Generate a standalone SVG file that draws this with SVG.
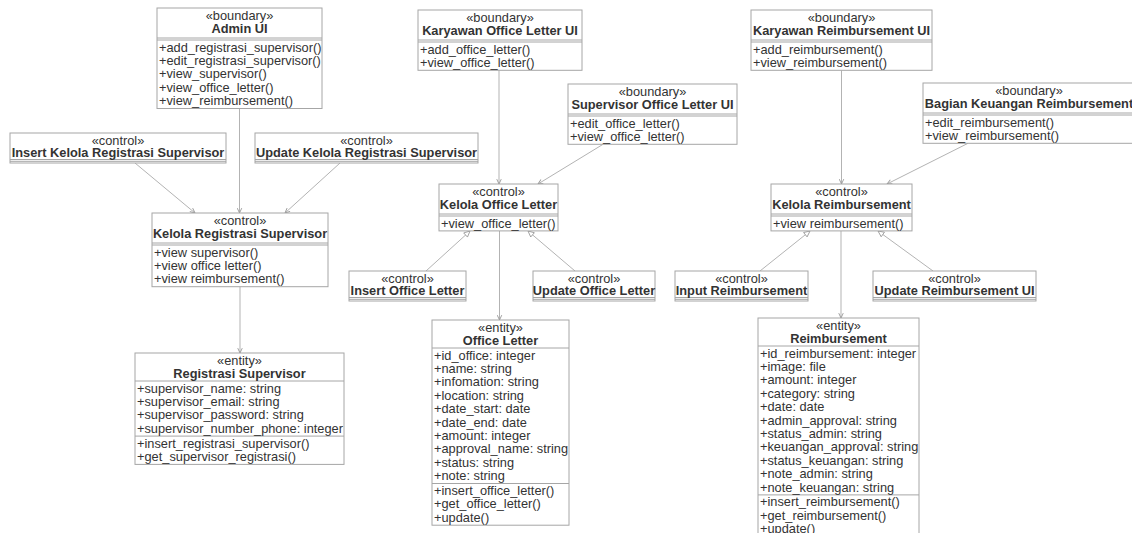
<svg xmlns="http://www.w3.org/2000/svg" width="1132" height="533" viewBox="0 0 1132 533">
<style>
.box{fill:#fff;stroke:#a6a6a6;stroke-width:1}
.dv{stroke:#a6a6a6;stroke-width:1}
text{font-family:'Liberation Sans',Arial,sans-serif;font-size:12.8px;fill:#333}
.c{text-anchor:middle}
.b{font-weight:bold;text-anchor:middle}
.ln{stroke:#b3b3b3;stroke-width:1;fill:none}
.a{marker-end:url(#arr)}
.t{marker-end:url(#tri)}
</style>
<defs>
<marker id="arr" viewBox="0 0 8 8" refX="7.5" refY="4" markerWidth="6" markerHeight="6" orient="auto" markerUnits="userSpaceOnUse"><path d="M1,1 L7.5,4 L1,7" fill="none" stroke="#999" stroke-width="1.2"/></marker>
<marker id="tri" viewBox="0 0 10 10" refX="9.5" refY="5" markerWidth="7" markerHeight="7" orient="auto" markerUnits="userSpaceOnUse"><path d="M1,1 L9.5,5 L1,9 z" fill="#fff" stroke="#999" stroke-width="1.2"/></marker>
</defs>

<g id="connectors">
<line class="ln a" x1="239.5" y1="108.5" x2="239.5" y2="213"/>
<line class="ln a" x1="135" y1="163" x2="195" y2="213"/>
<line class="ln a" x1="340" y1="163" x2="285" y2="213"/>
<line class="ln a" x1="240" y1="287" x2="240" y2="353"/>
<line class="ln a" x1="499" y1="70.3" x2="499" y2="184"/>
<line class="ln a" x1="603" y1="144.3" x2="538" y2="184"/>
<line class="ln t" x1="426" y1="271" x2="470" y2="231"/>
<line class="ln t" x1="575" y1="271" x2="528" y2="231"/>
<line class="ln a" x1="499.5" y1="231" x2="499.5" y2="320"/>
<line class="ln a" x1="841.5" y1="70.3" x2="841.5" y2="184"/>
<line class="ln a" x1="968" y1="143.3" x2="887" y2="184"/>
<line class="ln t" x1="760" y1="271" x2="810" y2="231"/>
<line class="ln t" x1="933" y1="271" x2="878" y2="231"/>
<line class="ln a" x1="841" y1="231" x2="841" y2="318"/>
</g>

<g id="admin-ui">
<rect class="box" x="157" y="8" width="165" height="100.5"/>
<line class="dv" x1="157" y1="38" x2="322" y2="38"/><line class="dv" x1="157" y1="40" x2="322" y2="40"/>
<text class="c" x="239.5" y="20">«boundary»</text>
<text class="b" x="239.5" y="33">Admin UI</text>
<text x="159" y="51.5">+add_registrasi_supervisor()</text>
<text x="159" y="64.9">+edit_registrasi_supervisor()</text>
<text x="159" y="78.3">+view_supervisor()</text>
<text x="159" y="91.7">+view_office_letter()</text>
<text x="159" y="105.1">+view_reimbursement()</text>
</g>

<g id="insert-kelola-registrasi-supervisor">
<rect class="box" x="10" y="133" width="216" height="30"/>
<line class="dv" x1="10" y1="159.5" x2="226" y2="159.5"/><line class="dv" x1="10" y1="161.3" x2="226" y2="161.3"/>
<text class="c" x="118" y="144.5">«control»</text>
<text class="b" x="118" y="157.3">Insert Kelola Registrasi Supervisor</text>
</g>

<g id="update-kelola-registrasi-supervisor">
<rect class="box" x="255" y="133" width="223" height="30"/>
<line class="dv" x1="255" y1="159.5" x2="478" y2="159.5"/><line class="dv" x1="255" y1="161.3" x2="478" y2="161.3"/>
<text class="c" x="366.5" y="144.5">«control»</text>
<text class="b" x="366.5" y="157.3">Update Kelola Registrasi Supervisor</text>
</g>

<g id="kelola-registrasi-supervisor">
<rect class="box" x="152" y="213" width="176" height="73.7"/>
<line class="dv" x1="152" y1="243" x2="328" y2="243"/><line class="dv" x1="152" y1="245" x2="328" y2="245"/>
<text class="c" x="240" y="225">«control»</text>
<text class="b" x="240" y="238">Kelola Registrasi Supervisor</text>
<text x="154" y="256.5">+view supervisor()</text>
<text x="154" y="269.9">+view office letter()</text>
<text x="154" y="283.3">+view reimbursement()</text>
</g>

<g id="registrasi-supervisor">
<rect class="box" x="135" y="353" width="209" height="111.4"/>
<line class="dv" x1="135" y1="381" x2="344" y2="381"/>
<line class="dv" x1="135" y1="436.1" x2="344" y2="436.1"/>
<text class="c" x="239.5" y="364.5">«entity»</text>
<text class="b" x="239.5" y="377.5">Registrasi Supervisor</text>
<text x="137" y="392.5">+supervisor_name: string</text>
<text x="137" y="405.9">+supervisor_email: string</text>
<text x="137" y="419.3">+supervisor_password: string</text>
<text x="137" y="432.7">+supervisor_number_phone: integer</text>
<text x="137" y="447.6">+insert_registrasi_supervisor()</text>
<text x="137" y="461">+get_supervisor_registrasi()</text>
</g>

<g id="karyawan-office-letter-ui">
<rect class="box" x="418" y="10" width="164" height="60.3"/>
<line class="dv" x1="418" y1="40" x2="582" y2="40"/><line class="dv" x1="418" y1="42" x2="582" y2="42"/>
<text class="c" x="500" y="22">«boundary»</text>
<text class="b" x="500" y="35">Karyawan Office Letter UI</text>
<text x="420" y="53.5">+add_office_letter()</text>
<text x="420" y="66.9">+view_office_letter()</text>
</g>

<g id="supervisor-office-letter-ui">
<rect class="box" x="568" y="84" width="169" height="60.3"/>
<line class="dv" x1="568" y1="114" x2="737" y2="114"/><line class="dv" x1="568" y1="116" x2="737" y2="116"/>
<text class="c" x="652.5" y="96">«boundary»</text>
<text class="b" x="652.5" y="109">Supervisor Office Letter UI</text>
<text x="570" y="127.5">+edit_office_letter()</text>
<text x="570" y="140.9">+view_office_letter()</text>
</g>

<g id="kelola-office-letter">
<rect class="box" x="439" y="184" width="119" height="46.9"/>
<line class="dv" x1="439" y1="214" x2="558" y2="214"/><line class="dv" x1="439" y1="216" x2="558" y2="216"/>
<text class="c" x="498.5" y="196">«control»</text>
<text class="b" x="498.5" y="209">Kelola Office Letter</text>
<text x="441" y="227.5">+view_office_letter()</text>
</g>

<g id="insert-office-letter">
<rect class="box" x="349" y="271" width="117" height="30"/>
<line class="dv" x1="349" y1="297.5" x2="466" y2="297.5"/><line class="dv" x1="349" y1="299.3" x2="466" y2="299.3"/>
<text class="c" x="407.5" y="282.5">«control»</text>
<text class="b" x="407.5" y="295.3">Insert Office Letter</text>
</g>

<g id="update-office-letter">
<rect class="box" x="533" y="271" width="122" height="30"/>
<line class="dv" x1="533" y1="297.5" x2="655" y2="297.5"/><line class="dv" x1="533" y1="299.3" x2="655" y2="299.3"/>
<text class="c" x="594" y="282.5">«control»</text>
<text class="b" x="594" y="295.3">Update Office Letter</text>
</g>

<g id="office-letter">
<rect class="box" x="432" y="320" width="137" height="205.2"/>
<line class="dv" x1="432" y1="348" x2="569" y2="348"/>
<line class="dv" x1="432" y1="483.5" x2="569" y2="483.5"/>
<text class="c" x="500.5" y="331.5">«entity»</text>
<text class="b" x="500.5" y="344.5">Office Letter</text>
<text x="434" y="359.5">+id_office: integer</text>
<text x="434" y="372.9">+name: string</text>
<text x="434" y="386.3">+infomation: string</text>
<text x="434" y="399.7">+location: string</text>
<text x="434" y="413.1">+date_start: date</text>
<text x="434" y="426.5">+date_end: date</text>
<text x="434" y="439.9">+amount: integer</text>
<text x="434" y="453.3">+approval_name: string</text>
<text x="434" y="466.7">+status: string</text>
<text x="434" y="480.1">+note: string</text>
<text x="434" y="495">+insert_office_letter()</text>
<text x="434" y="508.4">+get_office_letter()</text>
<text x="434" y="521.8">+update()</text>
</g>

<g id="karyawan-reimbursement-ui">
<rect class="box" x="751" y="10" width="181" height="60.3"/>
<line class="dv" x1="751" y1="40" x2="932" y2="40"/><line class="dv" x1="751" y1="42" x2="932" y2="42"/>
<text class="c" x="841.5" y="22">«boundary»</text>
<text class="b" x="841.5" y="35">Karyawan Reimbursement UI</text>
<text x="753" y="53.5">+add_reimbursement()</text>
<text x="753" y="66.9">+view_reimbursement()</text>
</g>

<g id="bagian-keuangan-reimbursement">
<rect class="box" x="923" y="83" width="212" height="60.3"/>
<line class="dv" x1="923" y1="113" x2="1135" y2="113"/><line class="dv" x1="923" y1="115" x2="1135" y2="115"/>
<text class="c" x="1029" y="95">«boundary»</text>
<text class="b" x="1029" y="108">Bagian Keuangan Reimbursement</text>
<text x="925" y="126.5">+edit_reimbursement()</text>
<text x="925" y="139.9">+view_reimbursement()</text>
</g>

<g id="kelola-reimbursement">
<rect class="box" x="771" y="184" width="141" height="46.9"/>
<line class="dv" x1="771" y1="214" x2="912" y2="214"/><line class="dv" x1="771" y1="216" x2="912" y2="216"/>
<text class="c" x="841.5" y="196">«control»</text>
<text class="b" x="841.5" y="209">Kelola Reimbursement</text>
<text x="773" y="227.5">+view reimbursement()</text>
</g>

<g id="input-reimbursement">
<rect class="box" x="675" y="271" width="133" height="30"/>
<line class="dv" x1="675" y1="297.5" x2="808" y2="297.5"/><line class="dv" x1="675" y1="299.3" x2="808" y2="299.3"/>
<text class="c" x="741.5" y="282.5">«control»</text>
<text class="b" x="741.5" y="295.3">Input Reimbursement</text>
</g>

<g id="update-reimbursement-ui">
<rect class="box" x="873" y="271" width="163" height="30"/>
<line class="dv" x1="873" y1="297.5" x2="1036" y2="297.5"/><line class="dv" x1="873" y1="299.3" x2="1036" y2="299.3"/>
<text class="c" x="954.5" y="282.5">«control»</text>
<text class="b" x="954.5" y="295.3">Update Reimbursement UI</text>
</g>

<g id="reimbursement">
<rect class="box" x="758" y="318" width="161" height="217.6"/>
<line class="dv" x1="758" y1="346" x2="919" y2="346"/>
<line class="dv" x1="758" y1="494.9" x2="919" y2="494.9"/>
<text class="c" x="838.5" y="329.5">«entity»</text>
<text class="b" x="838.5" y="342.5">Reimbursement</text>
<text x="760" y="357.5">+id_reimbursement: integer</text>
<text x="760" y="370.9">+image: file</text>
<text x="760" y="384.3">+amount: integer</text>
<text x="760" y="397.7">+category: string</text>
<text x="760" y="411.1">+date: date</text>
<text x="760" y="424.5">+admin_approval: string</text>
<text x="760" y="437.9">+status_admin: string</text>
<text x="760" y="451.3">+keuangan_approval: string</text>
<text x="760" y="464.7">+status_keuangan: string</text>
<text x="760" y="478.1">+note_admin: string</text>
<text x="760" y="491.5">+note_keuangan: string</text>
<text x="760" y="506.4">+insert_reimbursement()</text>
<text x="760" y="519.8">+get_reimbursement()</text>
<text x="760" y="533.2">+update()</text>
</g>
</svg>
